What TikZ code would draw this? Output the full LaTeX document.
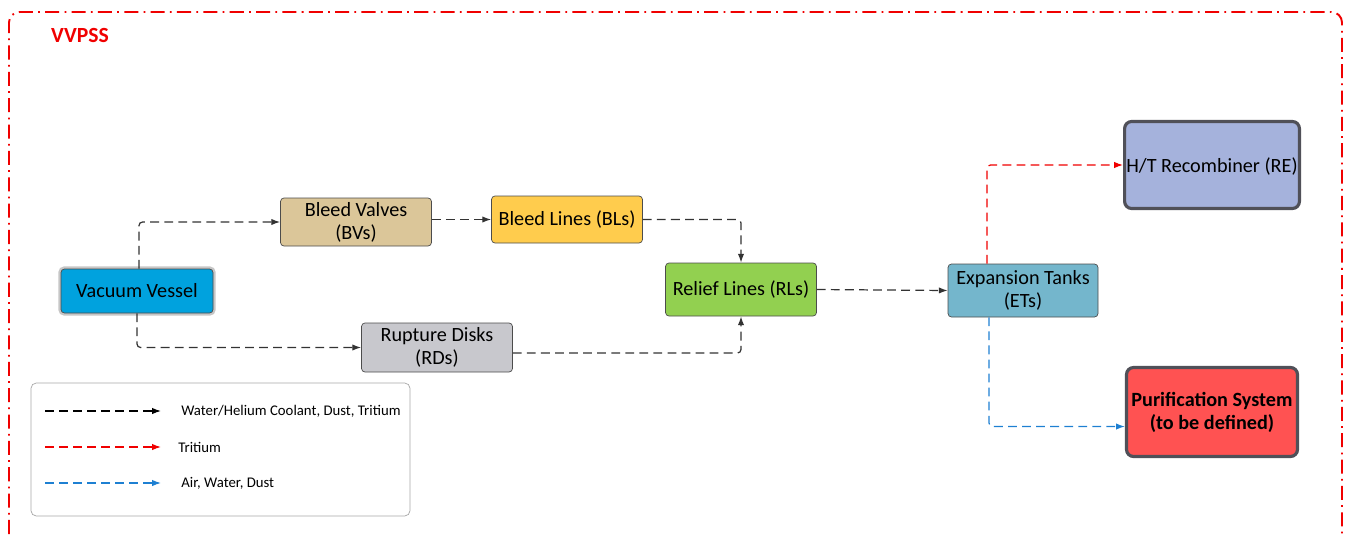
\documentclass[tikz,border=0pt]{standalone}
\usepackage{fontspec}
\setmainfont{Carlito}
\usetikzlibrary{arrows.meta}
\definecolor{vvblue}{RGB}{0,162,222}
\definecolor{bvtan}{RGB}{219,198,153}
\definecolor{blyellow}{RGB}{255,204,77}
\definecolor{rdgray}{RGB}{200,200,205}
\definecolor{rlgreen}{RGB}{146,208,80}
\definecolor{etblue}{RGB}{116,182,204}
\definecolor{relilac}{RGB}{165,178,220}
\definecolor{psred}{RGB}{255,82,82}
\definecolor{boxedge}{RGB}{80,80,88}
\definecolor{flowred}{RGB}{240,0,0}
\definecolor{flowblue}{RGB}{30,128,210}
\tikzset{
    box/.style={draw=gray!60!black, rounded corners=2pt, minimum width=3.02cm, minimum height=0.96cm,
        align=center, inner sep=1pt, font=\fontsize{11.5}{13}\selectfont},
    bigbox/.style={draw=boxedge, line width=1.8pt, rounded corners=4pt, minimum width=3.42cm,
        minimum height=1.74cm, align=center, inner sep=1pt, font=\fontsize{11.5}{13}\selectfont},
    flow/.style={dashed, dash pattern=on 5pt off 3pt, line width=0.7pt, rounded corners=2pt,
        -{Latex[length=5pt,width=3.6pt]}},
    keytext/.style={anchor=west, inner sep=0pt, font=\fontsize{8.4}{10}\selectfont},
}

\begin{document}
\begin{tikzpicture}
    \useasboundingbox (0cm, 0cm) rectangle (26.96cm, -10.68cm);

    % frame
    \draw[flowred, line width=1.1pt, dash pattern=on 8pt off 3pt on 1pt off 3pt, rounded corners=6pt]
        (0.18cm, -10.68cm) -- (0.18cm, -0.24cm) -- (26.84cm, -0.24cm) -- (26.84cm, -10.68cm);
    \node (vvpss) [anchor=west, text=flowred, font=\fontsize{12.3}{14}\selectfont\bfseries] at (0.90cm, -0.70cm) {VVPSS};

    \node (vv) [box, fill=vvblue, minimum width=3.04cm, minimum height=0.88cm,
        preaction={draw=gray!45, line width=3pt}] at (2.74cm, -5.82cm) {Vacuum Vessel};
    \node (bv) [box, fill=bvtan] at (7.12cm, -4.44cm) {Bleed Valves\\(BVs)};
    \node (bl) [box, fill=blyellow, minimum height=0.94cm] at (11.34cm, -4.39cm) {Bleed Lines (BLs)};
    \node (rd) [box, fill=rdgray, minimum height=0.98cm] at (8.74cm, -6.95cm) {Rupture Disks\\(RDs)};
    \node (rl) [box, fill=rlgreen, minimum height=1.06cm] at (14.82cm, -5.79cm) {Relief Lines (RLs)};
    \node (et) [box, fill=etblue, minimum width=3.0cm, minimum height=1.06cm] at (20.46cm, -5.81cm) {Expansion Tanks\\(ETs)};
    \node (re) [bigbox, fill=relilac, text depth=-4pt] at (24.24cm, -3.30cm) {H/T Recombiner (RE)};
    \node (ps) [bigbox, fill=psred, minimum height=1.78cm, font=\fontsize{11.5}{13}\selectfont\bfseries]
        at (24.24cm, -8.24cm) {Purification System\\(to be defined)};

    \draw[flow, black!80] ([xshift=0.04cm]vv.north) |- (bv.west);
    \draw[flow, black!80] (vv.south) |- (rd.west);
    \draw[flow, black!80] ([yshift=0.05cm]bv.east) -- ([yshift=0.05cm]bv.east -| bl.west);
    \draw[flow, black!80] (bl.east) -| (rl.north);
    \draw[flow, black!80] ([yshift=-0.11cm]rd.east) -| (rl.south);
    \draw[flow, black!80] (rl.east) -- (et.west);
    \draw[flow, flowred] ([xshift=-0.72cm]et.north) |- (re.west);
    \draw[flow, flowblue] ([xshift=-0.68cm]et.south) |- ([yshift=-0.29cm]ps.west);

    % key
    \node (key) [draw=gray!70, rounded corners=3pt, minimum width=7.58cm, minimum height=2.66cm] at (4.41cm, -8.99cm) {};
    \coordinate (k1a) at (0.90cm, -8.22cm);
    \coordinate (k1b) at (3.22cm, -8.22cm);
    \coordinate (k2a) at (0.90cm, -8.94cm);
    \coordinate (k2b) at (3.22cm, -8.94cm);
    \coordinate (k3a) at (0.90cm, -9.66cm);
    \coordinate (k3b) at (3.22cm, -9.66cm);
    \node (k1) [keytext] at (3.62cm, -8.22cm) {Water/Helium Coolant, Dust, Tritium};
    \node (k2) [keytext] at (3.56cm, -8.94cm) {Tritium};
    \node (k3) [keytext] at (3.62cm, -9.66cm) {Air, Water, Dust};
    \draw[flow, black] (k1a) -- (k1b);
    \draw[flow, flowred] (k2a) -- (k2b);
    \draw[flow, flowblue] (k3a) -- (k3b);
\end{tikzpicture}
\end{document}
